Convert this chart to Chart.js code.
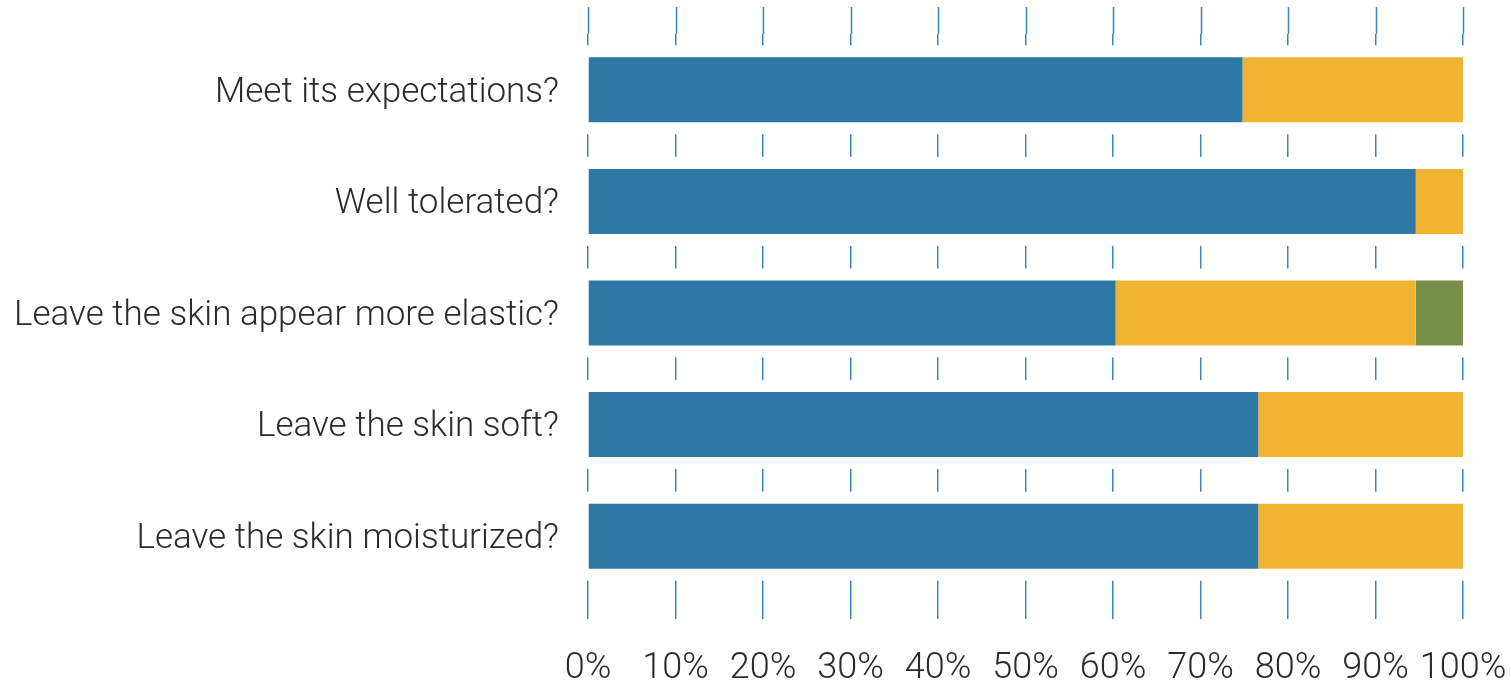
<!DOCTYPE html>
<html>
<head>
<meta charset="utf-8">
<script src="https://cdn.jsdelivr.net/npm/chart.js@4/dist/chart.umd.min.js"></script>
<style>
  html, body { margin: 0; padding: 0; background: #fff; }
  canvas { display: block; }
</style>
</head>
<body>
<canvas id="surveyChart" width="1511" height="684"></canvas>
<script>
// survey answers, in percent of respondents
var questions = [
  'Meet its expectations?',
  'Well tolerated?',
  'Leave the skin appear more elastic?',
  'Leave the skin soft?',
  'Leave the skin moisturized?'
];
var agreeValues = [74.8, 94.6, 60.3, 76.6, 76.6];
var partlyValues = [25.2, 5.4, 34.3, 23.4, 23.4];
var otherValues = [0, 0, 5.4, 0, 0];
var xTicks = [0, 10, 20, 30, 40, 50, 60, 70, 80, 90, 100];

var gridColor = '#3b84ba';
var textColor = '#2b2b2b';

// grid lines only show in the gaps between bars, and run a bit past the top
var gapGrid = {
  id: 'gapGrid',
  beforeDatasetsDraw: function (chart) {
    var ctx = chart.ctx;
    var area = chart.chartArea;
    var meta = chart.getDatasetMeta(0);
    ctx.save();
    ctx.fillStyle = '#ffffff';
    meta.data.forEach(function (bar) {
      var h = bar.height;
      ctx.fillRect(area.left - 5, bar.y - h / 2 - 12, area.right - area.left + 10, h + 24);
    });
    var xs = chart.scales.x;
    ctx.strokeStyle = gridColor;
    ctx.lineWidth = 1.5;
    xs.ticks.forEach(function (t) {
      var px = Math.round(xs.getPixelForValue(t.value)) + 0.5;
      ctx.beginPath();
      ctx.moveTo(px, area.top - 27);
      ctx.lineTo(px, area.top);
      ctx.stroke();
    });
    ctx.restore();
  }
};

var config = {
  type: 'bar',
  data: {
    labels: questions,
    datasets: [
      { label: 'Yes', data: agreeValues, backgroundColor: '#2d78a4' },
      { label: 'Partly', data: partlyValues, backgroundColor: '#f0b433' },
      { label: 'No', data: otherValues, backgroundColor: '#778f48' }
    ]
  },
  options: {
    indexAxis: 'y',
    responsive: false,
    animation: false,
    barPercentage: 1,
    categoryPercentage: 0.582,
    layout: { padding: { top: 34, right: 48, left: 0, bottom: 0 } },
    plugins: {
      legend: { display: false },
      tooltip: { enabled: false }
    },
    scales: {
      x: {
        stacked: true,
        min: 0,
        max: 100,
        afterBuildTicks: function (scale) {
          scale.ticks = xTicks.map(function (v) { return { value: v }; });
        },
        afterFit: function (scale) {
          scale.height = 92;
          scale.paddingLeft = 0;
          scale.paddingRight = 0;
        },
        border: { display: false },
        grid: {
          color: gridColor,
          lineWidth: 1.5,
          tickLength: 27
        },
        ticks: {
          color: textColor,
          padding: 28,
          maxRotation: 0,
          autoSkip: false,
          font: { family: 'Roboto', weight: '300', size: 36 },
          callback: function (v) { return v + '%'; }
        }
      },
      y: {
        stacked: true,
        afterFit: function (scale) {
          scale.width = 588;
          scale.paddingTop = 0;
          scale.paddingBottom = 0;
        },
        border: { display: false },
        grid: { display: false },
        ticks: {
          color: textColor,
          padding: 21,
          labelOffset: 3,
          font: { family: 'Roboto', weight: '300', size: 35 }
        }
      }
    }
  },
  plugins: [gapGrid]
};

var ctx = document.getElementById('surveyChart').getContext('2d');
window.surveyChart = new Chart(ctx, config);
</script>
</body>
</html>
